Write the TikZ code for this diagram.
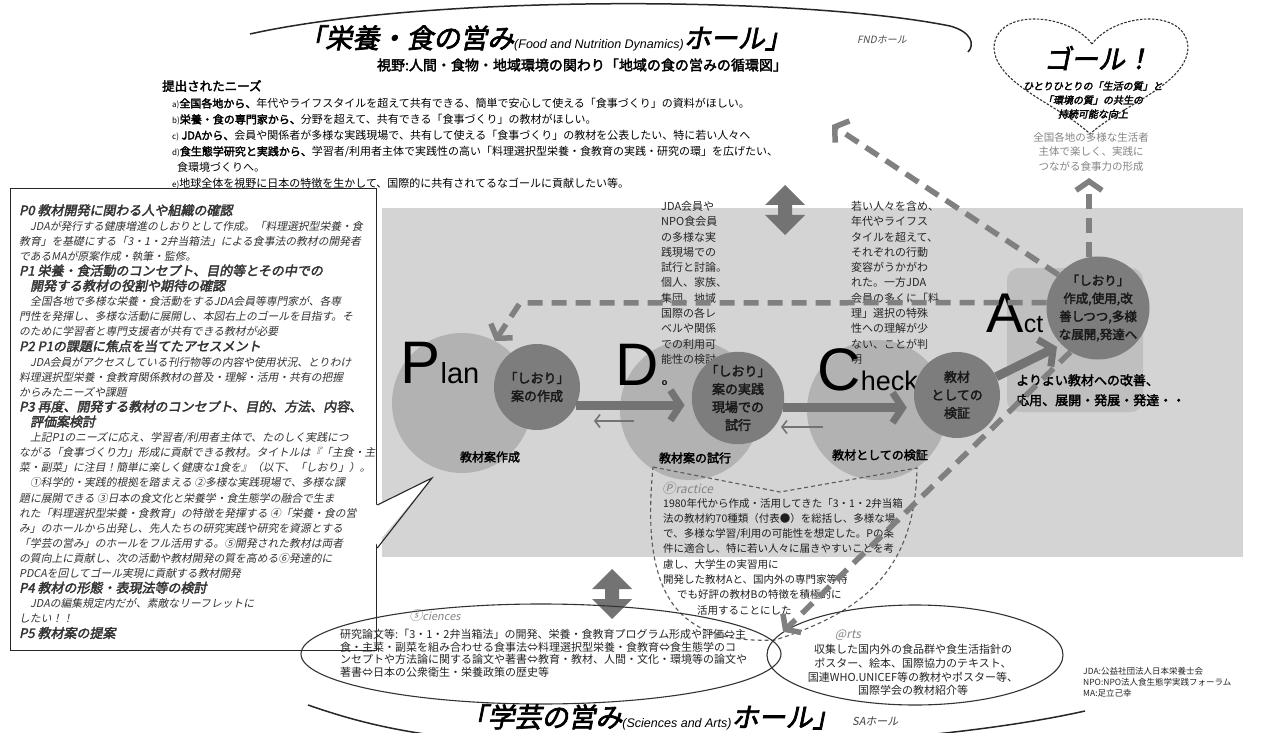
\documentclass[tikz,border=0pt]{standalone}
\usepackage{fontspec}
\setmainfont{Liberation Sans}
\newfontfamily\jp{Noto Sans CJK JP}[AutoFakeBold=2.5,AutoFakeSlant=0.2]
\usetikzlibrary{arrows.meta,shapes.geometric}
\definecolor{band}{gray}{0.83}
\definecolor{lightc}{gray}{0.70}
\definecolor{darkc}{gray}{0.49}
\definecolor{actc}{gray}{0.75}
\definecolor{arr}{gray}{0.45}
\definecolor{darr}{gray}{0.50}
\definecolor{softtext}{gray}{0.52}
\newcommand{\fs}[2]{\fontsize{#1}{#2}\selectfont}
\tikzset{
  lightcirc/.style={circle,fill=lightc,inner sep=0pt,minimum size=140pt},
  darkcirc/.style={circle,fill=darkc,inner sep=0pt,minimum size=86pt,align=center,font=\jp\bfseries\fs{13}{18},text=black!90},
  bigletter/.style={anchor=base west,inner sep=0pt,font=\fs{60}{60}},
  subletter/.style={anchor=base west,inner sep=0pt,font=\fs{29}{29}},
  circlabel/.style={font=\jp\bfseries\fs{12}{14},inner sep=0pt},
  thickarr/.style={draw=arr,line width=9pt,-{Straight Barb[length=10pt,width=30pt,line width=7pt]}},
  thinarr/.style={draw=arr,line width=1.6pt,-{Straight Barb[length=5pt,width=13pt]}},
  dasharr/.style={draw=darr,line width=5.5pt,dash pattern=on 15pt off 9pt,-{Straight Barb[length=9pt,width=26pt,line width=5.5pt]}},
  bodytext/.style={inner sep=0pt,align=left,anchor=north west},
  heartline/.style={draw=black!80,line width=1.1pt,dash pattern=on 2.5pt off 1.5pt},
  practline/.style={draw=black!65,line width=1.1pt,dash pattern=on 4pt off 3pt},
  hallarc/.style={draw=black!85,line width=1.5pt},
  dblarrow/.pic={\fill[arr] (0,-25) -- (20,-5) -- (7,-5) -- (7,5) -- (20,5) -- (0,25) -- (-20,5) -- (-7,5) -- (-7,-5) -- (-20,-5) -- cycle;},
}
\begin{document}
\begin{tikzpicture}[x=1pt,y=-1pt]
\useasboundingbox (0,0) rectangle (1270,733);
\fill[white] (0,0) rectangle (1270,733);
% gray band
\fill[band] (382,208) rectangle (1243,557);
\fill[actc,rounded corners=12pt] (1007,268) rectangle (1143,412);
% light circles
\node[lightcirc] (pl) at (462,403) {};
\node[lightcirc] (dl) at (690,410) {};
\node[lightcirc] (cl) at (877,410) {};
% column texts
\node[bodytext,font=\jp\fs{11}{15.3},text=black!85] (col1) at (661,201) {JDA会員や\\NPO食会員\\の多様な実\\践現場での\\試行と討論。\\個人、家族、\\集団、地域\\国際の各レ\\ベルや関係\\での利用可\\能性の検討};
\node[bodytext,font=\jp\fs{11}{15.3},text=black!85] (col2) at (851,201) {若い人々を含め、\\年代やライフス\\タイルを超えて、\\それぞれの行動\\変容がうかがわ\\れた。一方JDA\\会員の多くに「料\\理」選択の特殊\\性への理解が少\\ない、ことが判\\明};
% letters
\node[bigletter] (lp) at (400,383) {P};
\node[subletter] (lpl) at (lp.base east) {lan};
\node[bigletter] (ldo) at (615,385) {D};
\node[anchor=base west,inner sep=0pt,font=\bfseries\fs{9}{9}] (ldo2) at ([xshift=3pt]ldo.base east) {o};
\node[bigletter] (lc) at (817,390) {C};
\node[subletter,font=\fs{27}{27}] (lch) at (lc.base east) {heck};
\node[bigletter,font=\fs{56}{56}] (la) at (986,332) {A};
\node[subletter,font=\fs{25}{25}] (lact) at (la.base east) {ct};
% dark circles
\node[darkcirc] (pd) at (537,387) {「しおり」\\案の作成};
\node[darkcirc] (dd) at (738,398) {「しおり」\\案の実践\\現場での\\試行};
\node[darkcirc] (cd) at (957,395) {教材\\としての\\検証};
\node[darkcirc,minimum size=96pt,font=\jp\bfseries\fs{12.5}{18}] (ad) at (1098,308) {「しおり」\\作成,使用,改\\善しつつ,多様\\な展開,発達へ};
% labels
\node[circlabel] (lab1) at (490,457) {教材案作成};
\node[circlabel] (lab2) at (695,458) {教材案の試行};
\node[circlabel] (lab3) at (880,455) {教材としての検証};
\node[bodytext,font=\jp\bfseries\fs{13}{20}] (acttxt) at (1016,374) {よりよい教材への改善、\\応用、展開・発展・発達・・};
% solid arrows
\draw[thickarr,shorten >=7pt] (pd.-25) -- (pd.-25 -| dd.west);
\draw[thickarr,shorten >=7pt] (dd.-12) -- (dd.-12 -| cd.west);
\draw[thickarr,shorten >=5pt] (cd.25) -- (ad.225);
\coordinate (t1s) at (634,421); \coordinate (t1e) at (594,421);
\draw[thinarr] (t1s) -- (t1e);
\coordinate (t2s) at (823,427); \coordinate (t2e) at (781,427);
\draw[thinarr] (t2s) -- (t2e);
% double arrows
\pic at (785,210) {dblarrow};
\pic at (612,594) {dblarrow};
% needs
\node[bodytext,font=\jp\bfseries\fs{12.5}{14}] (needh) at (162,80) {提出されたニーズ};
\node[bodytext,font=\jp\fs{11}{16}] (needs) at (172,98) {{\fs{8}{16}a)}{\bfseries 全国各地から、}年代やライフスタイルを超えて共有できる、簡単で安心して使える「食事づくり」の資料がほしい。\\{\fs{8}{16}b)}{\bfseries 栄養・食の専門家から、}分野を超えて、共有できる「食事づくり」の教材がほしい。\\{\fs{8}{16}c)} {\bfseries JDAから、}会員や関係者が多様な実践現場で、共有して使える「食事づくり」の教材を公表したい、特に若い人々へ\\{\fs{8}{16}d)}{\bfseries 食生態学研究と実践から、}学習者/利用者主体で実践性の高い「料理選択型栄養・食教育の実践・研究の環」を広げたい、\\\hspace*{5pt}食環境づくりへ。\\{\fs{8}{16}e)}地球全体を視野に日本の特徴を生かして、国際的に共有されてるなゴールに貢献したい等。};
% left box
\node[draw=black!85,line width=1.3pt,fill=white,minimum width=366pt,minimum height=462pt,anchor=north west,inner sep=0pt] (pbox) at (10,188) {};
\coordinate (ptip) at (432,478);
\fill[white] (374,506) -- (ptip) -- (374,547) -- cycle;
\draw[black!85,line width=1.1pt] (pbox.east |- 0,505) -- (ptip) -- (pbox.east |- 0,548);
\node[bodytext,font=\jp\itshape\fs{10.8}{15.1},text=black!80] (ptext) at (19,204) {%
{\bfseries\fs{13}{15.1}P0 教材開発に関わる人や組織の確認}\\
\hspace*{11pt}JDAが発行する健康増進のしおりとして作成。「料理選択型栄養・食\\
教育」を基礎にする「3・1・2弁当箱法」による食事法の教材の開発者\\
であるMAが原案作成・執筆・監修。\\
{\bfseries\fs{13}{15.1}P1 栄養・食活動のコンセプト、目的等とその中での}\\
{\bfseries\fs{13}{15.1}\hspace*{11pt}開発する教材の役割や期待の確認}\\
\hspace*{11pt}全国各地で多様な栄養・食活動をするJDA会員等専門家が、各専\\
門性を発揮し、多様な活動に展開し、本図右上のゴールを目指す。そ\\
のために学習者と専門支援者が共有できる教材が必要\\
{\bfseries\fs{13}{15.1}P2 P1の課題に焦点を当てたアセスメント}\\
\hspace*{11pt}JDA会員がアクセスしている刊行物等の内容や使用状況、とりわけ\\
料理選択型栄養・食教育関係教材の普及・理解・活用・共有の把握\\
からみたニーズや課題\\
{\bfseries\fs{13}{15.1}P3 再度、開発する教材のコンセプト、目的、方法、内容、}\\
{\bfseries\fs{13}{15.1}\hspace*{11pt}評価案検討}\\
\hspace*{11pt}上記P1のニーズに応え、学習者/利用者主体で、たのしく実践につ\\
ながる「食事づくり力」形成に貢献できる教材。タイトルは『「主食・主\\
菜・副菜」に注目！簡単に楽しく健康な1食を』（以下、「しおり」）。\\
\hspace*{11pt}①科学的・実践的根拠を踏まえる ②多様な実践現場で、多様な課\\
題に展開できる ③日本の食文化と栄養学・食生態学の融合で生ま\\
れた「料理選択型栄養・食教育」の特徴を発揮する ④「栄養・食の営\\
み」のホールから出発し、先人たちの研究実践や研究を資源とする\\
「学芸の営み」のホールをフル活用する。⑤開発された教材は両者\\
の質向上に貢献し、次の活動や教材開発の質を高める⑥発達的に\\
PDCAを回してゴール実現に貢献する教材開発\\
{\bfseries\fs{13}{15.1}P4 教材の形態・表現法等の検討}\\
\hspace*{11pt}JDAの編集規定内だが、素敵なリーフレットに\\
したい！！\\
{\bfseries\fs{13}{15.1}P5 教材案の提案}};
% practice
\draw[practline] (653,467) -- (780,492) -- (917,468) .. controls (915,565) and (870,610) .. (775,640) .. controls (680,644) and (640,600) .. cycle;
\node[anchor=west,font=\jp\itshape\fs{12}{12},text=softtext,inner sep=0pt] (pracl) at (662,488) {{\fs{13.5}{13.5}Ⓟ}ractice};
\node[bodytext,font=\jp\fs{10.5}{15.3},text=black!88] (pract) at (663,498) {1980年代から作成・活用してきた「3・1・2弁当箱\\法の教材約70種類（付表●）を総括し、多様な場\\で、多様な学習/利用の可能性を想定した。Pの条\\件に適合し、特に若い人々に届きやすいことを考\\慮し、大学生の実習用に\\開発した教材Aと、国内外の専門家等特\\\hspace*{14pt}でも好評の教材Bの特徴を積極的に\\\hspace*{34pt}活用することにした};
% sciences & arts
\node[ellipse,draw=black!80,line width=1.1pt,minimum width=480pt,minimum height=100pt,inner sep=0pt] (sci) at (541,654) {};
\node[font=\jp\itshape\fs{11}{12},text=softtext,inner sep=0pt] (scil) at (435,616) {{\fs{13}{13}ⓢ}ciences};
\node[bodytext,font=\jp\fs{11}{12.6},text=black!85] (scit) at (340,629) {研究論文等:「3・1・2弁当箱法」の開発、栄養・食教育プログラム形成や評価⇔主\\食・主菜・副菜を組み合わせる食事法⇔料理選択型栄養・食教育⇔食生態学のコ\\ンセプトや方法論に関する論文や著書⇔教育・教材、人間・文化・環境等の論文や\\著書⇔日本の公衆衛生・栄養政策の歴史等};
\node[ellipse,draw=black!80,line width=1.1pt,minimum width=296pt,minimum height=100pt,inner sep=0pt] (art) at (915,655) {};
\node[font=\jp\itshape\fs{12}{12},text=softtext,inner sep=0pt] (artl) at (848,635) {@rts};
\node[font=\jp\fs{11}{13.7},text=black!85,align=center,inner sep=0pt] (artt) at (913,670) {収集した国内外の食品群や食生活指針の\\ポスター、絵本、国際協力のテキスト、\\国連WHO.UNICEF等の教材やポスター等、\\国際学会の教材紹介等};
\node[bodytext,font=\jp\fs{8.5}{11},text=black!85] (foot) at (1083,667) {JDA:公益社団法人日本栄養士会\\NPO:NPO法人食生態学実践フォーラム\\MA:足立己幸};
% heart
\draw[heartline] (1092,44) .. controls (1068,12) and (995,8) .. (994,48) .. controls (996,85) and (1060,105) .. (1090,134) .. controls (1122,105) and (1186,85) .. (1188,48) .. controls (1187,8) and (1116,12) .. (1092,44) -- cycle;
\node[font=\jp\bfseries\itshape\fs{27}{30},inner sep=0pt] (goal) at (1098,58) {ゴール！};
\node[font=\jp\bfseries\itshape\fs{10}{14},align=center,inner sep=0pt] (goalt) at (1093,100) {ひとりひとりの「生活の質」と\\「環境の質」の共生の\\持続可能な向上};
\node[font=\jp\fs{10.5}{14.5},text=softtext,align=center,inner sep=0pt] (goals) at (1091,152) {全国各地の多様な生活者\\主体で楽しく、実践に\\つながる食事力の形成};
% dashed arrows
\coordinate (dA) at (520,303);
\draw[dasharr] (ad.174) -- (dA) -- (pl.62);
\coordinate (dB) at (832,125);
\draw[dasharr] (ad.140) -- (dB);
\coordinate (dC) at (1090,178);
\draw[dasharr] (ad.100) -- (ad.100 |- dC);
\draw[dasharr] (ad.238) -- (art.170);
% hall arcs and titles
\draw[hallarc] (250,34) .. controls (430,-6) and (800,-4) .. (950,26) .. controls (972,32) and (975,45) .. (968,52);
\draw[hallarc] (308,705) .. controls (380,730) and (450,745) .. (640,748) .. controls (850,748) and (1000,730) .. (1085,711);
\node[font=\jp\bfseries\itshape\fs{27}{30},inner sep=0pt] (ttl) at (545,38) {「栄養・食の営み{\rmfamily\mdseries\itshape\fs{12.5}{14}(Food and Nutrition Dynamics)}ホール」};
\node[font=\jp\itshape\fs{10}{12},text=black!70,anchor=west,inner sep=0pt] (fnd) at (857,40) {FNDホール};
\node[font=\jp\bfseries\fs{14}{15},inner sep=0pt] (view) at (582,65) {視野:人間・食物・地域環境の関わり「地域の食の営みの循環図」};
\node[font=\jp\bfseries\itshape\fs{27}{30},inner sep=0pt] (bttl) at (650,717) {「学芸の営み{\rmfamily\mdseries\itshape\fs{12.5}{14}(Sciences and Arts)}ホール」};
\node[font=\jp\itshape\fs{11}{12},text=black!75,anchor=west,inner sep=0pt] (sa) at (852,721) {SAホール};
\end{tikzpicture}
\end{document}
